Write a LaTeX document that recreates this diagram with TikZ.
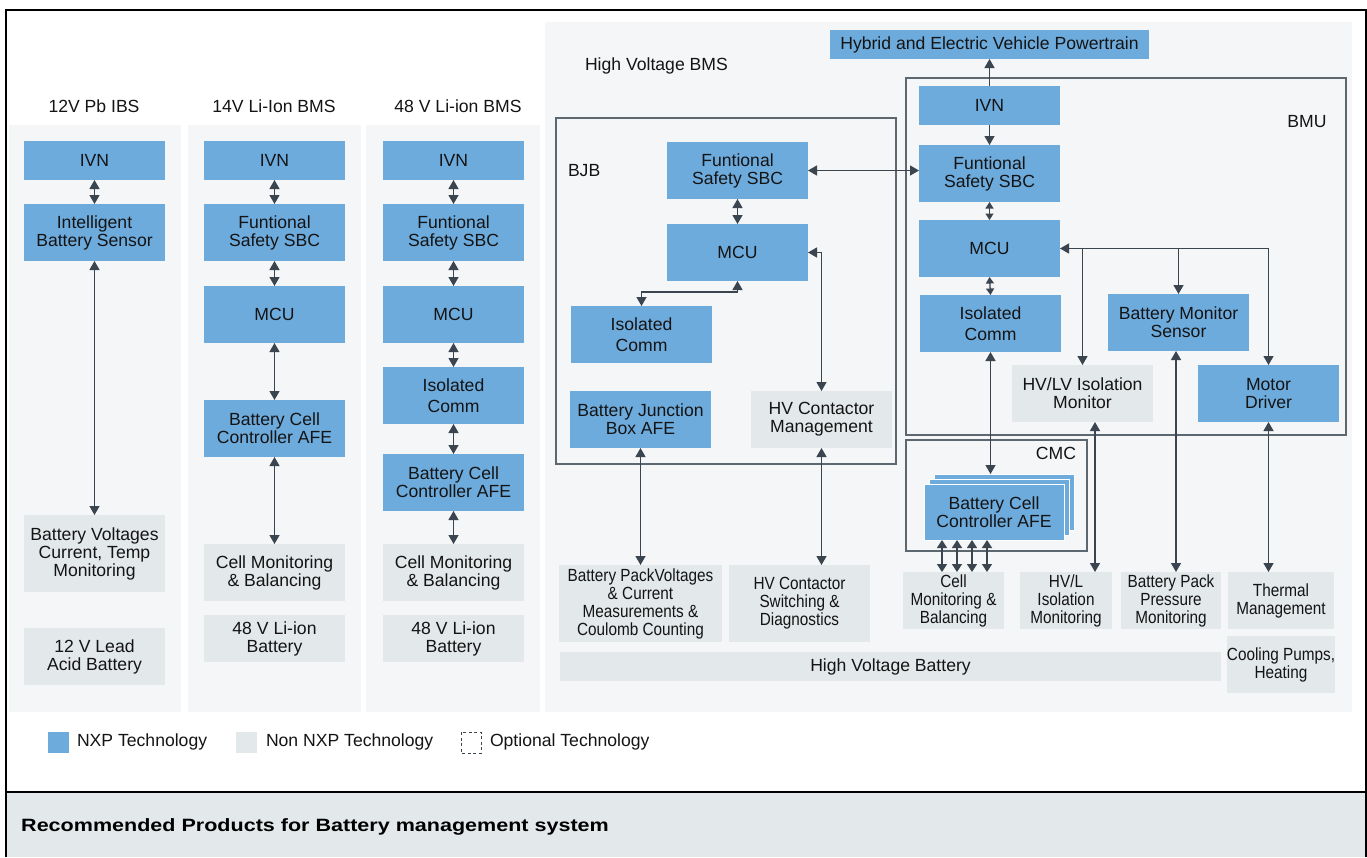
\documentclass[tikz,border=0pt]{standalone}
\usepackage{fontspec}
\setmainfont{Liberation Sans}
\newfontfamily\narrowf[FakeStretch=0.87]{Liberation Sans}
\newfontfamily\widef[FakeStretch=1.21]{Liberation Sans}
\usetikzlibrary{arrows.meta}
\definecolor{nxpblue}{HTML}{6EABDD}
\definecolor{nongray}{HTML}{E3E8EA}
\definecolor{panelbg}{HTML}{F4F6F8}
\definecolor{linecol}{HTML}{3A4550}
\definecolor{framecol}{HTML}{5C6770}
\definecolor{bandgray}{HTML}{E3E8EB}
\definecolor{txt}{HTML}{141414}
\newcommand\bx[7]{\node[#2, minimum width={#5-#3}, minimum height={#6-#4}] (#1) at ({(#3+#5)/2},{(#4+#6)/2}) {#7};}
\tikzset{
  box/.style={inner sep=0pt, outer sep=0pt, align=center, text=txt, font=\fontsize{17.6}{18}\selectfont},
  nxp/.style={box, fill=nxpblue},
  non/.style={box, fill=nongray},
  nonn/.style={non, font=\narrowf\fontsize{17.6}{18}\selectfont},
  lbl/.style={inner sep=0pt, outer sep=0pt, text=txt, font=\fontsize{17.6}{18}\selectfont},
  conn/.style={draw=linecol, line width=1.3pt},
  dbl/.style={conn, {Triangle[length=9pt,width=10pt]}-{Triangle[length=9pt,width=10pt]}},
  sdbl/.style={conn, {Triangle[length=6.5pt,width=8pt]}-{Triangle[length=6.5pt,width=8pt]}},
  arr/.style={conn, -{Triangle[length=9pt,width=10pt]}},
  frm/.style={draw=framecol, line width=1.3pt},
  afebox/.style={nxp, draw=white, line width=1pt}
}
\begin{document}
\begin{tikzpicture}[x=1pt,y=-1pt]
\useasboundingbox (0,0) rectangle (1367,857);
% bottom band
\fill[bandgray] (6,792) rectangle (1366,857);
% outer frame
\draw[black, line width=2pt] (6,857) -- (6,10) -- (1366,10) -- (1366,857);
\draw[black, line width=2pt] (6,792) -- (1366,792);
\node[inner sep=0pt, anchor=west, text=black, font=\widef\bfseries\fontsize{17.8}{18}\selectfont] (title) at (21,827) {Recommended Products for Battery management system};
% panels
\fill[panelbg] (9,125) rectangle (181,712);
\fill[panelbg] (188,125) rectangle (361,712);
\fill[panelbg] (366,125) rectangle (540,712);
\fill[panelbg] (545,22) rectangle (1352,712);
% panel titles
\node[lbl] (t1) at (94,106) {12V Pb IBS};
\node[lbl] (t2) at (274,106) {14V Li-Ion BMS};
\node[lbl] (t3) at (458,106) {48 V Li-ion BMS};
\node[lbl, anchor=west] (t4) at (585,66) {High Voltage BMS};
% frames
\draw[frm] (556,118) rectangle (896,464);
\draw[frm] (906,78) rectangle (1346,435);
\draw[frm] (906,440) rectangle (1087,551);
\node[lbl, anchor=west] (bjb) at (568,171) {BJB};
\node[lbl] (bmu) at (1307,122) {BMU};
\node[lbl] (cmc) at (1056,453) {CMC};
% panel 1
\bx{p1ivn}{nxp}{24}{141}{165}{180}{IVN}
\bx{p1ibs}{nxp}{24}{204}{165}{261}{Intelligent\\Battery Sensor}
\bx{p1bv}{non}{24}{515}{165}{592}{Battery Voltages\\Current, Temp\\Monitoring}
\bx{p1lead}{non}{24}{628}{165}{685}{12 V Lead\\Acid Battery}
% panel 2
\bx{p2ivn}{nxp}{204}{141}{345}{180}{IVN}
\bx{p2sbc}{nxp}{204}{204}{345}{261}{Funtional\\Safety SBC}
\bx{p2mcu}{nxp}{204}{286}{345}{343}{MCU}
\bx{p2afe}{nxp}{204}{400}{345}{457}{Battery Cell\\Controller AFE}
\bx{p2cm}{non}{204}{544}{345}{601}{Cell Monitoring\\\& Balancing}
\bx{p2bat}{non}{204}{615}{345}{662}{48 V Li-ion\\Battery}
% panel 3
\bx{p3ivn}{nxp}{383}{141}{524}{180}{IVN}
\bx{p3sbc}{nxp}{383}{204}{524}{261}{Funtional\\Safety SBC}
\bx{p3mcu}{nxp}{383}{286}{524}{343}{MCU}
\bx{p3ic}{nxp}{383}{367}{524}{424}{Isolated\\[3pt]Comm}
\bx{p3afe}{nxp}{383}{454}{524}{511}{Battery Cell\\Controller AFE}
\bx{p3cm}{non}{383}{544}{524}{601}{Cell Monitoring\\\& Balancing}
\bx{p3bat}{non}{383}{615}{524}{662}{48 V Li-ion\\Battery}
% high voltage
\bx{hyb}{nxp}{830}{30}{1149}{59}{Hybrid and Electric Vehicle Powertrain}
\bx{bsbc}{nxp}{667}{142}{808}{199}{Funtional\\Safety SBC}
\bx{bmcu}{nxp}{667}{224}{808}{281}{MCU}
\bx{bic}{nxp}{571}{306}{712}{363}{Isolated\\[3pt]Comm}
\bx{bafe}{nxp}{570}{391}{711}{448}{Battery Junction\\Box AFE}
\bx{hvcm}{non}{751}{391}{892}{448}{HV Contactor\\Management}
\bx{mivn}{nxp}{919}{86}{1060}{125}{IVN}
\bx{msbc}{nxp}{919}{145}{1060}{202}{Funtional\\Safety SBC}
\bx{mmcu}{nxp}{919}{220}{1060}{277}{MCU}
\bx{mic}{nxp}{920}{295}{1061}{352}{Isolated\\[3pt]Comm}
\bx{bms}{nxp}{1108}{294}{1249}{351}{Battery Monitor\\Sensor}
\bx{hvlv}{non}{1012}{365}{1153}{422}{HV/LV Isolation\\Monitor}
\bx{motor}{nxp}{1198}{365}{1339}{422}{Motor\\Driver}
\bx{afe3}{afebox}{934}{474}{1074}{530}{}
\bx{afe2}{afebox}{929}{479}{1069}{535}{}
\bx{afe1}{afebox}{924}{484}{1064}{540}{Battery Cell\\Controller AFE}
% bottom row
\bx{bpv}{nonn}{559}{565}{722}{642}{Battery PackVoltages\\\& Current\\Measurements \&\\Coulomb Counting}
\bx{hvcs}{nonn}{729}{565}{870}{642}{HV Contactor\\Switching \&\\Diagnostics}
\bx{cmb}{nonn}{903}{572}{1004}{629}{Cell\\Monitoring \&\\Balancing}
\bx{hvlm}{nonn}{1020}{572}{1112}{629}{HV/L\\Isolation\\Monitoring}
\bx{bpp}{nonn}{1121}{572}{1221}{629}{Battery Pack\\Pressure\\Monitoring}
\bx{therm}{nonn}{1228}{572}{1334}{629}{Thermal\\Management}
\bx{cool}{nonn}{1228}{636}{1334}{693}{Cooling Pumps,\\Heating}
\bx{hvb}{non}{560}{652}{1221}{681}{High Voltage Battery}
% connectors panel 1
\draw[dbl] (p1ivn.south) -- (p1ibs.north);
\draw[dbl] (p1ibs.south) -- (p1bv.north);
% panel 2
\draw[dbl] (p2ivn.south) -- (p2sbc.north);
\draw[dbl] (p2sbc.south) -- (p2mcu.north);
\draw[dbl] (p2mcu.south) -- (p2afe.north);
\draw[dbl] (p2afe.south) -- (p2cm.north);
% panel 3
\draw[dbl] (p3ivn.south) -- (p3sbc.north);
\draw[dbl] (p3sbc.south) -- (p3mcu.north);
\draw[dbl] (p3mcu.south) -- (p3ic.north);
\draw[dbl] (p3ic.south) -- (p3afe.north);
\draw[dbl] (p3afe.south) -- (p3cm.north);
% BJB
\draw[dbl] (bsbc.south) -- (bmcu.north);
\draw[dbl] (bmcu.south) -- (bmcu.south |- 0,292) -| (bic.north);
\draw[dbl] (bmcu.east) -| (hvcm.north);
\draw[dbl] (bsbc.east) -- (msbc.west |- bsbc.east);
\draw[dbl] (bafe.south) -- (bpv.north -| bafe.south);
\draw[dbl] (hvcm.south) -- (hvcs.north -| hvcm.south);
% BMU
\draw[arr] (mivn.north) -- (hyb.south -| mivn.north);
\draw[arr] (mivn.south) -- (msbc.north);
\draw[sdbl] (msbc.south) -- (mmcu.north);
\draw[sdbl] (mmcu.south) -- (mic.north);
\draw[dbl] (mmcu.east) -| (motor.north);
\draw[arr] (hvlv.north |- mmcu.east) -- (hvlv.north);
\draw[arr] (bms.north |- mmcu.east) -- (bms.north);
\draw[dbl] (mic.south) -- (mic.south |- afe3.north);
\draw[dbl] (1095,0 |- hvlv.south) -- (1095,0 |- hvlm.north);
\draw[dbl] (1176,0 |- bms.south) -- (1176,0 |- bpp.north);
\draw[dbl] (motor.south) -- (motor.south |- therm.north);
% CMC to cell monitoring
\foreach \xx in {942,957,972,987}{
  \draw[conn, {Triangle[length=8pt,width=10pt]}-{Triangle[length=8pt,width=10pt]}] (\xx,0 |- afe1.south) -- (\xx,0 |- cmb.north);
}
% legend
\fill[nxpblue] (48,732) rectangle (69,753);
\node[lbl, anchor=west] (l1) at (77,742) {NXP Technology};
\fill[nongray] (236,732) rectangle (257,753);
\node[lbl, anchor=west] (l2) at (266,742) {Non NXP Technology};
\draw[linecol, line width=0.9pt, dash pattern=on 3pt off 2.5pt] (461,732) rectangle (481,753);
\node[lbl, anchor=west] (l3) at (490,742) {Optional Technology};
\end{tikzpicture}
\end{document}
